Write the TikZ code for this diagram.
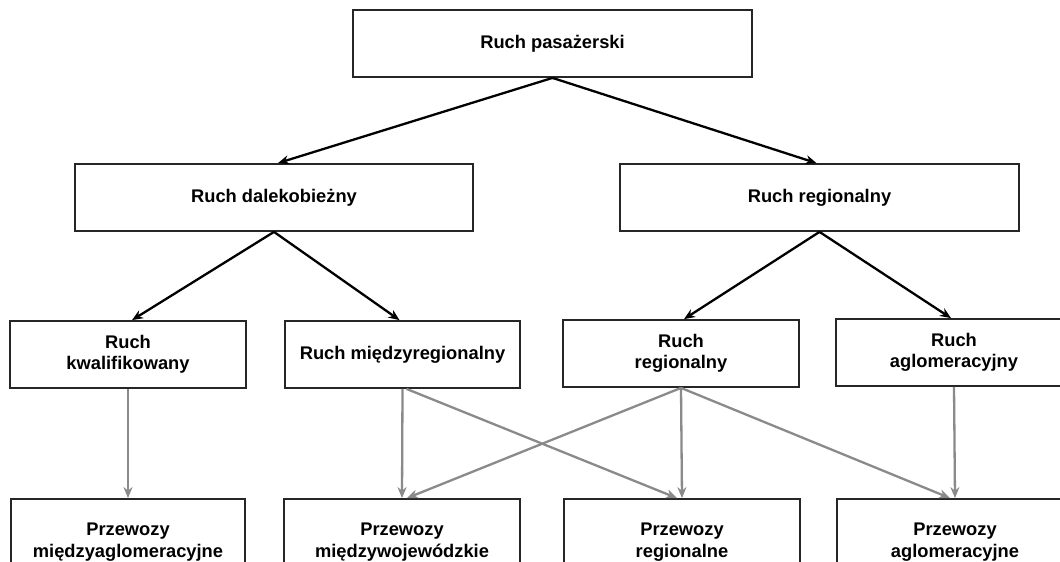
\documentclass[tikz,border=0pt]{standalone}
\usepackage{fontspec}
\setmainfont{Liberation Sans}
\usetikzlibrary{arrows.meta}
\definecolor{conngray}{HTML}{8A8A8A}
\definecolor{boxline}{HTML}{262626}
\tikzset{
  box/.style={draw=boxline, line width=1.8pt, fill=white, align=center,
    inner sep=0pt, font=\fontsize{18.3}{21.5}\selectfont\bfseries},
  blackarrow/.style={draw=black, line width=2.3pt, -{Stealth[length=11pt,width=9pt]}},
  grayarrow/.style={draw=conngray, line width=2.3pt, -{Stealth[length=11pt,width=9pt]}}
}
\begin{document}
\begin{tikzpicture}[x=1pt,y=-1pt]
\useasboundingbox (0,0) rectangle (1060,562);
\clip (0,0) rectangle (1060,562);
\fill[white] (0,0) rectangle (1060,562);
% level 1
\node[box, minimum width=399pt, minimum height=67pt] (top) at (552.5,43.5) {Ruch pasażerski};
% level 2
\node[box, minimum width=398pt, minimum height=67pt] (dal) at (274,197.5) {Ruch dalekobieżny};
\node[box, minimum width=399pt, minimum height=67pt] (reg) at (819.5,197.5) {Ruch regionalny};
% level 3
\node[box, minimum width=236pt, minimum height=67pt] (kwal) at (128,354.5) {Ruch\\kwalifikowany};
\node[box, minimum width=235pt, minimum height=67pt] (mreg) at (402.5,354.5) {Ruch międzyregionalny};
\node[box, minimum width=236pt, minimum height=67pt] (rreg) at (681,353.5) {Ruch\\regionalny};
\node[box, minimum width=236pt, minimum height=67pt] (aglo) at (954,352.5) {Ruch\\aglomeracyjny};
% level 4
\node[box, minimum width=234pt, minimum height=86pt] (pma) at (128,542) {Przewozy\\międzyaglomeracyjne};
\node[box, minimum width=236pt, minimum height=86pt] (pmw) at (402,542) {Przewozy\\międzywojewódzkie};
\node[box, minimum width=236pt, minimum height=86pt] (preg) at (682,542) {Przewozy\\regionalne};
\node[box, minimum width=236pt, minimum height=86pt] (pagl) at (955,542) {Przewozy\\aglomeracyjne};
% black connectors
\draw[blackarrow] (top.south) -- ([xshift=4pt]dal.north);
\draw[blackarrow] (top.south) -- ([xshift=-3pt]reg.north);
\draw[blackarrow] (dal.south) -- ([xshift=4pt]kwal.north);
\draw[blackarrow] (dal.south) -- ([xshift=-3pt]mreg.north);
\draw[blackarrow] (reg.south) -- ([xshift=3pt]rreg.north);
\draw[blackarrow] (reg.south) -- ([xshift=-3pt]aglo.north);
% gray connectors
\draw[grayarrow] (kwal.south) -- (pma.north);
\draw[grayarrow] (mreg.south) -- (pmw.north);
\draw[grayarrow] ([xshift=4pt]mreg.south) -- ([xshift=-5pt]preg.north);
\draw[grayarrow] (rreg.south) -- ([xshift=5pt]pmw.north);
\draw[grayarrow] (rreg.south) -- (preg.north);
\draw[grayarrow] (rreg.south) -- ([xshift=-5pt]pagl.north);
\draw[grayarrow] (aglo.south) -- (pagl.north);
\end{tikzpicture}
\end{document}
